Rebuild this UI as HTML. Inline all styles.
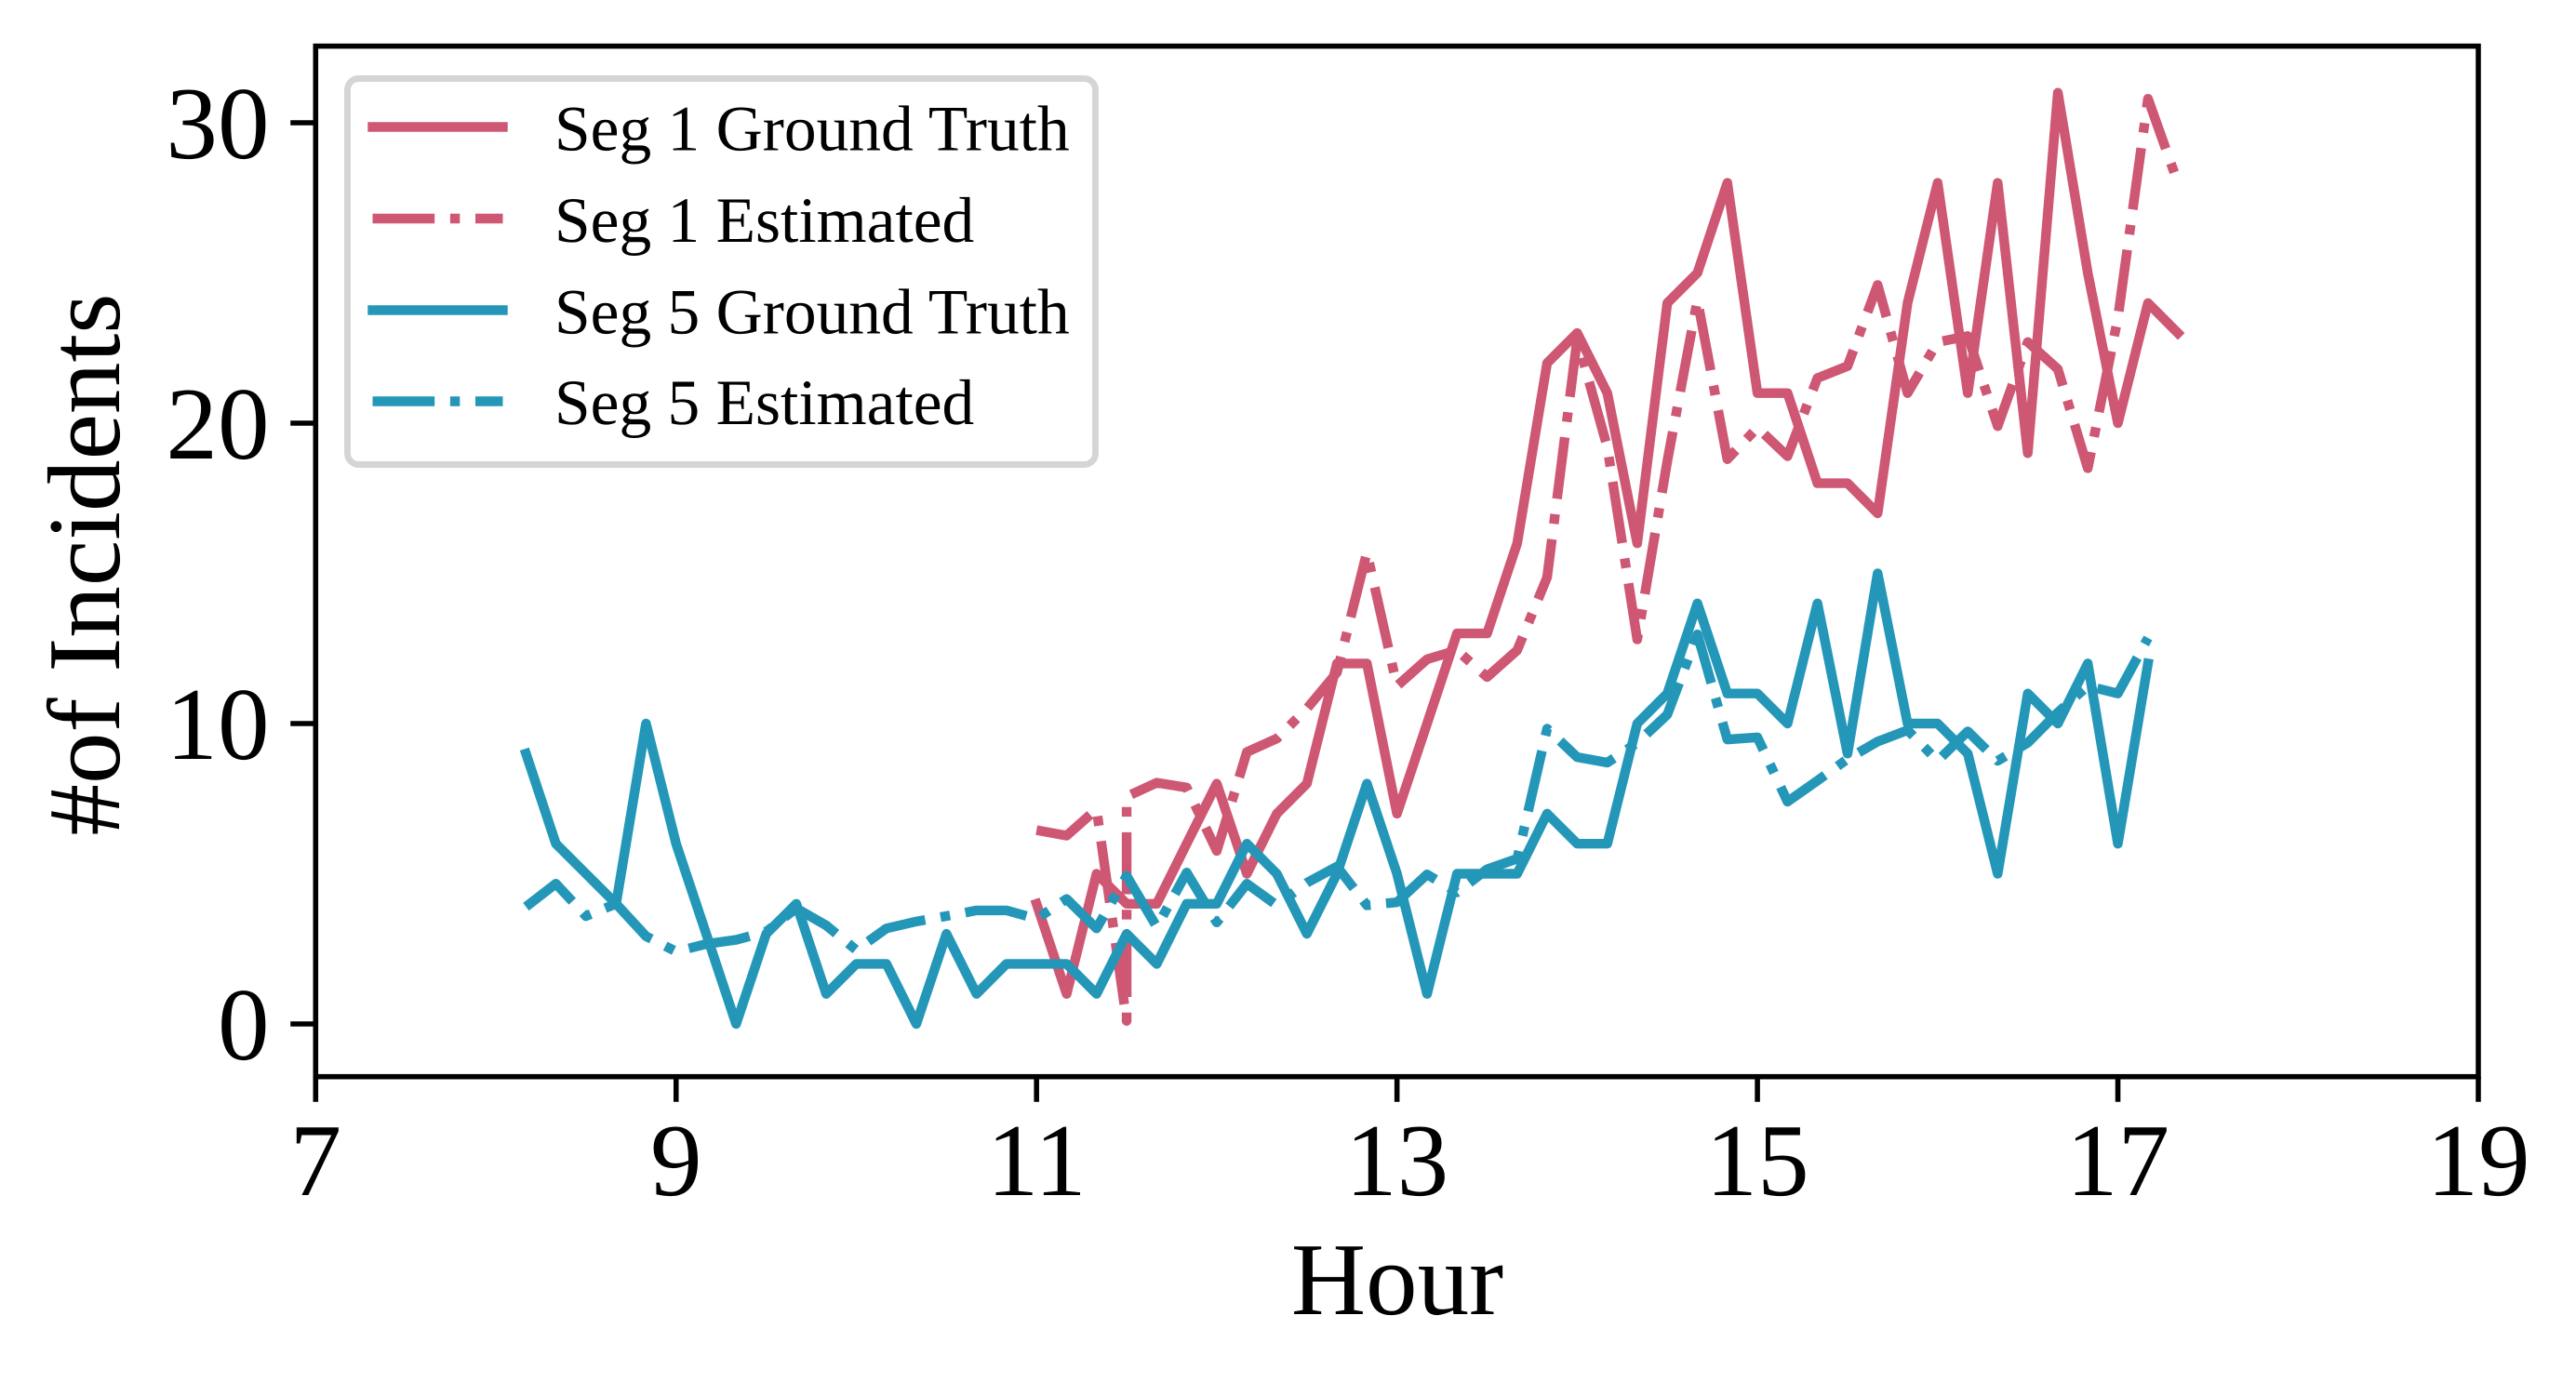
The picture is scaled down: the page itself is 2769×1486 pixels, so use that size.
<!DOCTYPE html>
<html lang="en">
<head>
<meta charset="utf-8">
<title>Incidents by Hour</title>
<style>
  html, body { margin: 0; padding: 0; background: #ffffff; }
  svg { display: block; }
  text { font-family: "Liberation Serif", "Times New Roman", serif; fill: #000000; text-rendering: geometricPrecision; }
</style>
</head>
<body>
<svg id="chart" xmlns="http://www.w3.org/2000/svg" width="2769" height="1486" viewBox="0 0 2769 1486">
  <rect x="0" y="0" width="2769" height="1486" fill="#ffffff"/>
  <g id="series-layer"></g>
  <g id="axes-layer"></g>
  <g>
    <rect x="373.5" y="84.5" width="804" height="415" rx="12" ry="12" fill="#ffffff" fill-opacity="0.8" stroke="#d5d5d5" stroke-width="6.9"/>
    <line x1="400.5" y1="136.5" x2="540.5" y2="136.5" stroke="#ce5773" stroke-width="10.42" stroke-linecap="square"/>
    <text x="596" y="161.5" font-size="69.44">Seg 1 Ground Truth</text>
    <line x1="400.5" y1="235" x2="540.5" y2="235" stroke="#ce5773" stroke-width="10.42" stroke-dasharray="66.7 16.7 10.4 16.7"/>
    <text x="596" y="260" font-size="69.44">Seg 1 Estimated</text>
    <line x1="400.5" y1="333.5" x2="540.5" y2="333.5" stroke="#2497b9" stroke-width="10.42" stroke-linecap="square"/>
    <text x="596" y="358.5" font-size="69.44">Seg 5 Ground Truth</text>
    <line x1="400.5" y1="431.5" x2="540.5" y2="431.5" stroke="#2497b9" stroke-width="10.42" stroke-dasharray="66.7 16.7 10.4 16.7"/>
    <text x="596" y="456" font-size="69.44">Seg 5 Estimated</text>
  </g>
</svg>
<script>
const xTickValues = [7, 9, 11, 13, 15, 17, 19];
const xTickLabels = ["7", "9", "11", "13", "15", "17", "19"];
const yTickValues = [0, 10, 20, 30];
const yTickLabels = ["0", "10", "20", "30"];

const seg1TruthHours = [11, 11.167, 11.333, 11.5, 11.667, 11.833, 12, 12.167, 12.333, 12.5, 12.667, 12.833, 13, 13.167, 13.333, 13.5, 13.667, 13.833, 14, 14.167, 14.333, 14.5, 14.667, 14.833, 15, 15.167, 15.333, 15.5, 15.667, 15.833, 16, 16.167, 16.333, 16.5, 16.667, 16.833, 17, 17.167, 17.333];
const seg1TruthValues = [4, 1, 5, 4, 4, 6, 8, 5, 7, 8, 12, 12, 7, 10, 13, 13, 16, 22, 23, 21, 16, 24, 25, 28, 21, 21, 18, 18, 17, 24, 28, 21, 28, 19, 31, 25, 20, 24, 23];

const seg1EstimatedHours = [11, 11.167, 11.333, 11.5, 11.5, 11.667, 11.833, 12, 12.167, 12.333, 12.5, 12.667, 12.833, 13, 13.167, 13.333, 13.5, 13.667, 13.833, 14, 14.167, 14.333, 14.5, 14.667, 14.833, 15, 15.167, 15.333, 15.5, 15.667, 15.833, 16, 16.167, 16.333, 16.5, 16.667, 16.833, 17, 17.167, 17.333];
const seg1EstimatedValues = [6.45, 6.27, 7.15, 0.1, 7.57, 8.03, 7.87, 5.76, 9.05, 9.5, 10.5, 11.7, 15.7, 11.25, 12.14, 12.44, 11.55, 12.44, 14.87, 22.8, 19.2, 12.8, 18.74, 24.1, 18.8, 19.85, 18.9, 21.5, 21.9, 24.6, 21.0, 22.7, 22.9, 19.9, 22.7, 21.8, 18.5, 23.5, 30.8, 28.0];

const seg5Hours = [8.167, 8.333, 8.5, 8.667, 8.833, 9, 9.167, 9.333, 9.5, 9.667, 9.833, 10, 10.167, 10.333, 10.5, 10.667, 10.833, 11, 11.167, 11.333, 11.5, 11.667, 11.833, 12, 12.167, 12.333, 12.5, 12.667, 12.833, 13, 13.167, 13.333, 13.5, 13.667, 13.833, 14, 14.167, 14.333, 14.5, 14.667, 14.833, 15, 15.167, 15.333, 15.5, 15.667, 15.833, 16, 16.167, 16.333, 16.5, 16.667, 16.833, 17, 17.167];
const seg5TruthValues = [9, 6, 5, 4, 10, 6, 3, 0, 3, 4, 1, 2, 2, 0, 3, 1, 2, 2, 2, 1, 3, 2, 4, 4, 6, 5, 3, 5, 8, 5, 1, 5, 5, 5, 7, 6, 6, 10, 11, 14, 11, 11, 10, 14, 9, 15, 10, 10, 9, 5, 11, 10, 12, 6, 12];
const seg5EstimatedValues = [3.9, 4.67, 3.59, 4.0, 2.92, 2.41, 2.66, 2.8, 3.07, 3.85, 3.28, 2.46, 3.18, 3.41, 3.59, 3.78, 3.78, 3.5, 4.16, 3.18, 4.93, 3.23, 5.04, 3.38, 4.67, 3.95, 4.7, 5.24, 3.95, 4.05, 4.98, 4.38, 5.15, 5.5, 9.83, 8.88, 8.7, 9.36, 10.3, 12.97, 9.47, 9.54, 7.4, 8.1, 8.82, 9.4, 9.78, 8.76, 9.74, 8.76, 9.36, 10.37, 11.25, 11.0, 12.85];

const NS = "http://www.w3.org/2000/svg";
const plotLeft = 339.3, plotRight = 2664, plotTop = 49.6, plotBottom = 1157.7;
const xMin = 7, xMax = 19;
const yAtZero = 1101, pxPerUnit = 32.3;
const PINK = "#ce5773", BLUE = "#2497b9";
const LINE_W = 10.42, SPINE_W = 5.56, TICK_LEN = 24.3, FONT = 111.1;
const DASHDOT = "66.7 16.7 10.4 16.7";

function xScale(h) { return plotLeft + (h - xMin) / (xMax - xMin) * (plotRight - plotLeft); }
function yScale(v) { return yAtZero - v * pxPerUnit; }

function make(tag, attrs, parent) {
  const el = document.createElementNS(NS, tag);
  for (const k in attrs) el.setAttribute(k, attrs[k]);
  parent.appendChild(el);
  return el;
}

const seriesLayer = document.getElementById("series-layer");
const axesLayer = document.getElementById("axes-layer");

function drawSeries(name, hours, values, color, dashed) {
  const pts = hours.map(function (h, i) {
    return xScale(h).toFixed(2) + "," + yScale(values[i]).toFixed(2);
  }).join(" ");
  const line = make("polyline", {
    points: pts, fill: "none", stroke: color, "stroke-width": LINE_W,
    "stroke-linejoin": "round", "stroke-linecap": dashed ? "butt" : "square"
  }, seriesLayer);
  if (dashed) line.setAttribute("stroke-dasharray", DASHDOT);
  
  
}

drawSeries("seg-1-ground-truth-line", seg1TruthHours, seg1TruthValues, PINK, false);
drawSeries("seg-1-estimated-line", seg1EstimatedHours, seg1EstimatedValues, PINK, true);
drawSeries("seg-5-ground-truth-line", seg5Hours, seg5TruthValues, BLUE, false);
drawSeries("seg-5-estimated-line", seg5Hours, seg5EstimatedValues, BLUE, true);

const spineFrame = make("rect", {
  x: plotLeft, y: plotTop, width: plotRight - plotLeft, height: plotBottom - plotTop,
  fill: "none", stroke: "#000000", "stroke-width": SPINE_W
}, axesLayer);



xTickValues.forEach(function (v, i) {
  const x = xScale(v);
  const tick = make("line", {
    x1: x, x2: x, y1: plotBottom, y2: plotBottom + SPINE_W / 2 + TICK_LEN,
    stroke: "#000000", "stroke-width": SPINE_W
  }, axesLayer);
  
  
  const label = make("text", { x: x, y: 1285, "text-anchor": "middle", "font-size": FONT }, axesLayer);
  label.textContent = xTickLabels[i];
  
  
});

yTickValues.forEach(function (v, i) {
  const y = yScale(v);
  const tick = make("line", {
    x1: plotLeft - SPINE_W / 2 - TICK_LEN, x2: plotLeft, y1: y, y2: y,
    stroke: "#000000", "stroke-width": SPINE_W
  }, axesLayer);
  
  
  const label = make("text", { x: 289.5, y: y + 38, "text-anchor": "end", "font-size": FONT }, axesLayer);
  label.textContent = yTickLabels[i];
  
  
});

const xTitle = make("text", { x: 1502, y: 1413, "text-anchor": "middle", "font-size": FONT }, axesLayer);
xTitle.textContent = "Hour";



const yTitle = make("text", { x: 0, y: 0, "text-anchor": "middle", "font-size": FONT, transform: "translate(128 607) rotate(-90)" }, axesLayer);
yTitle.textContent = "#of Incidents";


</script>
</body>
</html>
